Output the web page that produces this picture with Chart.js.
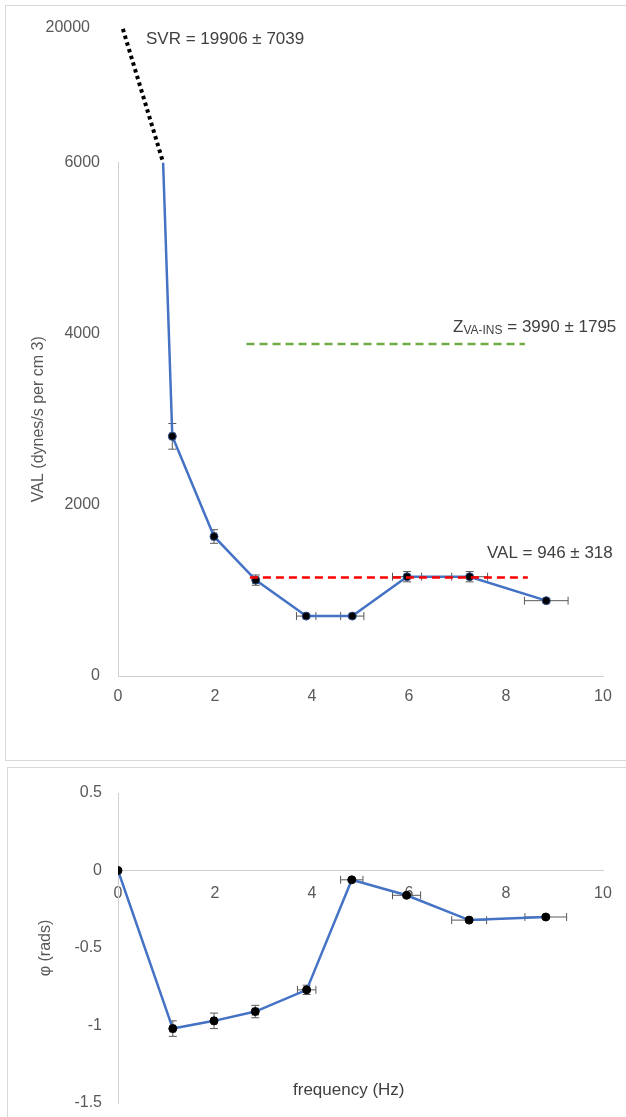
<!DOCTYPE html>
<html>
<head>
<meta charset="utf-8">
<title>VAL and phase vs frequency</title>
<script src="https://cdn.jsdelivr.net/npm/chart.js@4.4.0/dist/chart.umd.min.js"></script>
<style>
  html, body { margin: 0; padding: 0; background: #fff; overflow: hidden; }
  .frame { position: absolute; border: 1px solid #d9d9d9; border-right: none; }
  #topFrame { left: 5px; top: 5px; width: 621px; height: 754px; }
  #botFrame { left: 7px; top: 767px; width: 619px; height: 400px; }
  .holder { position: absolute; left: 0; width: 626px; }
</style>
</head>
<body>
<div class="frame" id="topFrame"></div>
<div class="frame" id="botFrame"></div>
<div class="holder" style="top:0;height:762px"><canvas id="valChart"></canvas></div>
<div class="holder" style="top:764px;height:353px"><canvas id="phaseChart"></canvas></div>
<script>
// ---- data ----
// frequency of each harmonic (Hz) and its spread
const freq = [1.12, 1.98, 2.84, 3.88, 4.83, 5.96, 7.25, 8.83];
const freqErr = [0.05, 0.05, 0.06, 0.2, 0.24, 0.3, 0.37, 0.45];

// impedance modulus (dynes/s per cm3)
const valValues = [2800, 1630, 1120, 700, 700, 1160, 1160, 880];
const valErr = [150, 80, 60, 20, 20, 60, 60, 25];

// where the curve leaves the broken axis, and the SVR end of the dotted link
const breakFreq = 0.93, breakValue = 6000;
const svrFreq = 0.1, svrValue = 19906;

// mean lines
const valMean = 1150, valMeanFrom = 2.72, valMeanTo = 8.45;
const zMean = 3880, zMeanFrom = 2.65, zMeanTo = 8.39;

// phase (rads)
const phaseFreq = [0, 1.13, 1.98, 2.83, 3.89, 4.82, 5.95, 7.24, 8.82];
const phaseFreqErr = [0, 0.05, 0.05, 0.06, 0.19, 0.23, 0.29, 0.36, 0.43];
const phaseValues = [0, -1.02, -0.97, -0.91, -0.77, -0.06, -0.16, -0.32, -0.3];
const phaseErr = [0, 0.05, 0.05, 0.04, 0.03, 0.01, 0.01, 0.01, 0.01];

// tick labels
const freqTicks = [0, 2, 4, 6, 8, 10];
const valTicks = [0, 2000, 4000, 6000];
const valBreakTicks = [20000];
const phaseTicks = [-1.5, -1, -0.5, 0, 0.5];

const FONT = '"Liberation Sans", Arial, sans-serif';
const TICK = '#595959';
const AXIS = '#d0d0d0';
const BLUE = '#4472C4';

Chart.defaults.font.family = FONT;
Chart.defaults.animation = false;

const pts = (xs, ys) => xs.map((x, i) => ({ x: x, y: ys[i] }));

// fixed axis box sizes, and no extra label overflow padding
const fixWidth = (w) => (s) => {
  s.width = w;
  s.paddingTop = 0; s.paddingBottom = 0;
};
const fixHeight = (h) => (s) => {
  s.height = h;
  s.paddingTop = 0; s.paddingBottom = 0;
};

// draws the x / y error bars of any dataset that carries errorX / errorY
const errorBars = {
  id: 'errorBars',
  beforeDatasetsDraw(chart) {
    const ctx = chart.ctx;
    chart.data.datasets.forEach((ds) => {
      if (!ds.errorY) return;
      const xs = chart.scales[ds.xAxisID || 'x'];
      const ys = chart.scales[ds.yAxisID || 'y'];
      ctx.save();
      ctx.strokeStyle = '#5a5a5a';
      ctx.lineWidth = 1;
      ds.data.forEach((p, j) => {
        const ex = ds.errorX[j], ey = ds.errorY[j];
        const px = xs.getPixelForValue(p.x), py = ys.getPixelForValue(p.y);
        ctx.beginPath();
        if (ey) {
          const t = ys.getPixelForValue(p.y + ey), b = ys.getPixelForValue(p.y - ey);
          ctx.moveTo(px, t); ctx.lineTo(px, b);
          ctx.moveTo(px - 4, t); ctx.lineTo(px + 4, t);
          ctx.moveTo(px - 4, b); ctx.lineTo(px + 4, b);
        }
        if (ex) {
          const l = xs.getPixelForValue(p.x - ex), r = xs.getPixelForValue(p.x + ex);
          ctx.moveTo(l, py); ctx.lineTo(r, py);
          ctx.moveTo(l, py - 4); ctx.lineTo(l, py + 4);
          ctx.moveTo(r, py - 4); ctx.lineTo(r, py + 4);
        }
        ctx.stroke();
      });
      ctx.restore();
    });
  }
};

// text labels on the top chart
const valNotes = {
  id: 'valNotes',
  afterDraw(chart) {
    const ctx = chart.ctx;
    ctx.save();
    ctx.fillStyle = '#404040';
    ctx.textBaseline = 'alphabetic';
    ctx.font = '17px ' + FONT;
    ctx.fillText('SVR = 19906 ± 7039', 146, 44);
    ctx.fillText('VAL = 946 ± 318', 487, 558);
    let x = 453;
    ctx.fillText('Z', x, 332);
    x += ctx.measureText('Z').width;
    ctx.font = '12px ' + FONT;
    ctx.fillText('VA-INS', x, 334);
    x += ctx.measureText('VA-INS').width;
    ctx.font = '17px ' + FONT;
    ctx.fillText(' = 3990 ± 1795', x, 332);
    ctx.restore();
  }
};

const phaseNotes = {
  id: 'phaseNotes',
  afterDraw(chart) {
    const ctx = chart.ctx;
    ctx.save();
    ctx.fillStyle = '#404040';
    ctx.font = '17px ' + FONT;
    ctx.fillText('frequency (Hz)', 293, 331);
    ctx.restore();
  }
};

const tickFont = { size: 16, family: FONT };
const hidden = { display: false, drawTicks: false };

// ---------- top chart ----------
new Chart(document.getElementById('valChart'), {
  type: 'line',
  data: {
    datasets: [
      {
        label: 'VAL mean',
        data: pts([valMeanFrom, valMeanTo], [valMean, valMean]),
        borderColor: '#FF0000',
        borderWidth: 2.5,
        borderDash: [8, 5],
        pointRadius: 0,
        order: 0
      },
      {
        label: 'Z VA-INS',
        data: pts([zMeanFrom, zMeanTo], [zMean, zMean]),
        borderColor: '#70AD47',
        borderWidth: 2.5,
        borderDash: [8, 5],
        pointRadius: 0,
        order: 1
      },
      {
        label: 'VAL',
        data: pts([breakFreq].concat(freq), [breakValue].concat(valValues)),
        errorX: [0].concat(freqErr),
        errorY: [0].concat(valErr),
        borderColor: BLUE,
        borderWidth: 2.5,
        backgroundColor: '#000',
        pointBorderColor: '#2e4d8a',
        pointBorderWidth: 1,
        pointRadius: (c) => (c.dataIndex === 0 ? 0 : 4),
        tension: 0,
        order: 2
      },
      {
        label: 'SVR link',
        yAxisID: 'yBreak',
        data: pts([svrFreq, breakFreq], [svrValue, breakValue]),
        borderColor: '#000',
        borderWidth: 4,
        borderDash: [3.5, 3.5],
        pointRadius: 0,
        order: 3
      }
    ]
  },
  options: {
    responsive: true,
    maintainAspectRatio: false,
    layout: { padding: { top: 28, right: 23, left: 0, bottom: 0 } },
    plugins: { legend: { display: false }, tooltip: { enabled: false } },
    scales: {
      x: {
        type: 'linear',
        min: 0,
        max: 10,
        afterBuildTicks: (s) => { s.ticks = freqTicks.map((v) => ({ value: v })); },
        ticks: { color: TICK, font: tickFont, padding: 11, maxRotation: 0 },
        grid: hidden,
        border: { color: AXIS },
        afterFit: fixHeight(86)
      },
      y: {
        type: 'linear',
        stack: 'val',
        stackWeight: 512,
        min: 0,
        max: 6000,
        afterBuildTicks: (s) => { s.ticks = valTicks.map((v) => ({ value: v })); },
        ticks: { color: TICK, font: tickFont, padding: 18, callback: (v) => String(v) },
        grid: hidden,
        border: { color: AXIS },
        title: {
          display: true,
          text: 'VAL (dynes/s per cm 3)',
          color: TICK,
          font: { size: 16, family: FONT },
          padding: { top: 29, bottom: 0 }
        },
        afterFit: fixWidth(118)
      },
      yBreak: {
        type: 'linear',
        position: 'left',
        stack: 'val',
        stackWeight: 134,
        min: 6000,
        max: 20000,
        afterBuildTicks: (s) => { s.ticks = valBreakTicks.map((v) => ({ value: v })); },
        ticks: { color: TICK, font: tickFont, padding: 28, callback: (v) => String(v) },
        grid: hidden,
        border: { display: false },
        afterFit: fixWidth(118)
      }
    }
  },
  plugins: [errorBars, valNotes]
});

// ---------- bottom chart ----------
new Chart(document.getElementById('phaseChart'), {
  type: 'line',
  data: {
    datasets: [
      {
        label: 'phase',
        data: pts(phaseFreq, phaseValues),
        errorX: phaseFreqErr,
        errorY: phaseErr,
        borderColor: BLUE,
        borderWidth: 2.5,
        backgroundColor: '#000',
        pointBorderColor: '#000',
        pointBorderWidth: 1,
        pointRadius: 4,
        tension: 0
      }
    ]
  },
  options: {
    responsive: true,
    maintainAspectRatio: false,
    layout: { padding: { top: 29, right: 23, left: 0, bottom: 14 } },
    plugins: { legend: { display: false }, tooltip: { enabled: false } },
    scales: {
      x: {
        type: 'linear',
        position: { y: 0 },
        min: 0,
        max: 10,
        afterBuildTicks: (s) => { s.ticks = freqTicks.map((v) => ({ value: v })); },
        ticks: { color: TICK, font: tickFont, padding: 13, maxRotation: 0 },
        grid: hidden,
        border: { color: AXIS },
        afterFit: fixHeight(1)
      },
      y: {
        type: 'linear',
        min: -1.5,
        max: 0.5,
        afterBuildTicks: (s) => { s.ticks = phaseTicks.map((v) => ({ value: v })); },
        ticks: { color: TICK, font: tickFont, padding: 16, callback: (v) => String(v) },
        grid: hidden,
        border: { color: AXIS },
        title: {
          display: true,
          text: 'φ (rads)',
          color: TICK,
          font: { size: 16, family: FONT },
          padding: { top: 36, bottom: 0 }
        },
        afterFit: fixWidth(118)
      }
    }
  },
  plugins: [errorBars, phaseNotes]
});
</script>
</body>
</html>
